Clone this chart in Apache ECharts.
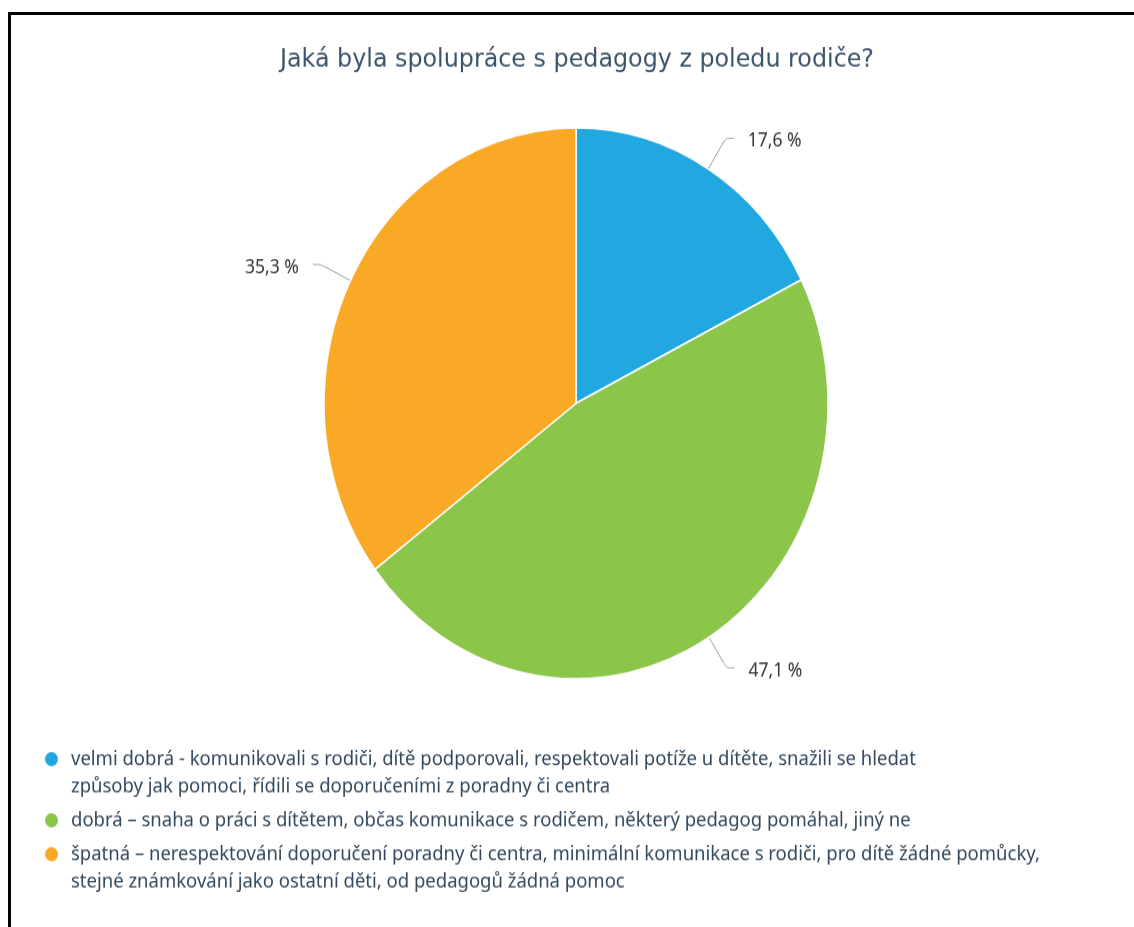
<!DOCTYPE html>
<html>
<head>
<meta charset="utf-8">
<script src="https://cdn.jsdelivr.net/npm/echarts@6/dist/echarts.min.js"></script>
<style>
  html, body { margin: 0; padding: 0; background: #fff; }
  #frame {
    position: absolute; left: 8px; top: 12px; width: 1126px; height: 915px;
    border-top: 3px solid #000; border-left: 3px solid #000; box-sizing: border-box;
  }
  #chart {
    position: absolute; left: 0; top: 0; width: 1134px; height: 848px;
    transform: scale(1, 1.093); transform-origin: 0 0;
  }
</style>
</head>
<body>
<div id="chart"></div>
<div id="frame"></div>
<script>
// Survey answers (legend text keeps its own line breaks)
const categories = [
  'velmi dobrá - komunikovali s rodiči, dítě podporovali, respektovali potíže u dítěte, snažili se hledat\nzpůsoby jak pomoci, řídili se doporučeními z poradny či centra',
  'dobrá – snaha o práci s dítětem, občas komunikace s rodičem, některý pedagog pomáhal, jiný ne',
  'špatná – nerespektování doporučení poradny či centra, minimální komunikace s rodiči, pro dítě žádné pomůcky,\nstejné známkování jako ostatní děti, od pedagogů žádná pomoc'
];
const shares = [17.6, 47.1, 35.3];
const colors = ['#21a8e0', '#8bc54a', '#faa926'];
const titleText = 'Jaká byla spolupráce s pedagogy z poledu rodiče?';

const chart = echarts.init(document.getElementById('chart'), null, { renderer: 'canvas' });

// One legend block per answer, stacked under the pie; the marker sits on the first text line.
const lineH = 25;
const itemGap = 6;
const legendTop0 = 682;
let cursor = legendTop0;
const legends = categories.map(function (name) {
  const lines = name.split('\n').length;
  const firstCenter = cursor + lineH / 2;
  // a leading empty line keeps the marker level with the first line of wrapped text
  const extra = lines > 1 ? lines - 1 : 0;
  const top = firstCenter - lineH / 2 - extra * lineH;
  cursor += lines * lineH + itemGap;
  return {
    orient: 'vertical',
    left: 43,
    top: top,
    padding: 0,
    icon: 'circle',
    itemWidth: 29,
    itemHeight: 15,
    data: [name],
    formatter: function (n) { return n.indexOf('\n') >= 0 ? '\n' + n : n; },
    textStyle: { fontFamily: 'Noto Sans', fontSize: 18.5, color: '#34495e', lineHeight: lineH }
  };
});

chart.setOption({
  backgroundColor: '#fff',
  animation: false,
  color: colors,
  title: {
    text: titleText,
    left: 275,
    top: 37.5,
    textStyle: { fontFamily: 'DejaVu Sans', fontSize: 23.8, fontWeight: 'normal', color: '#3d536c' }
  },
  legend: legends,
  series: [{
    type: 'pie',
    center: [576, 369],
    radius: 252,
    startAngle: 90,
    clockwise: true,
    data: categories.map(function (n, i) { return { name: n, value: shares[i] }; }),
    itemStyle: { borderColor: '#fff', borderWidth: 1.5 },
    label: {
      formatter: function (p) { return '{v|' + p.value.toFixed(1).replace('.', ',') + ' %}'; },
      rich: { v: { fontFamily: 'Noto Sans', fontSize: 17.5, color: '#333', padding: [6, 0, 0, 0] } },
      distanceToLabelLine: 14
    },
    labelLine: {
      length: 33,
      length2: 8,
      smooth: 0.2,
      lineStyle: { color: '#999', width: 1 }
    },
    emphasis: { disabled: true }
  }]
});
</script>
</body>
</html>
